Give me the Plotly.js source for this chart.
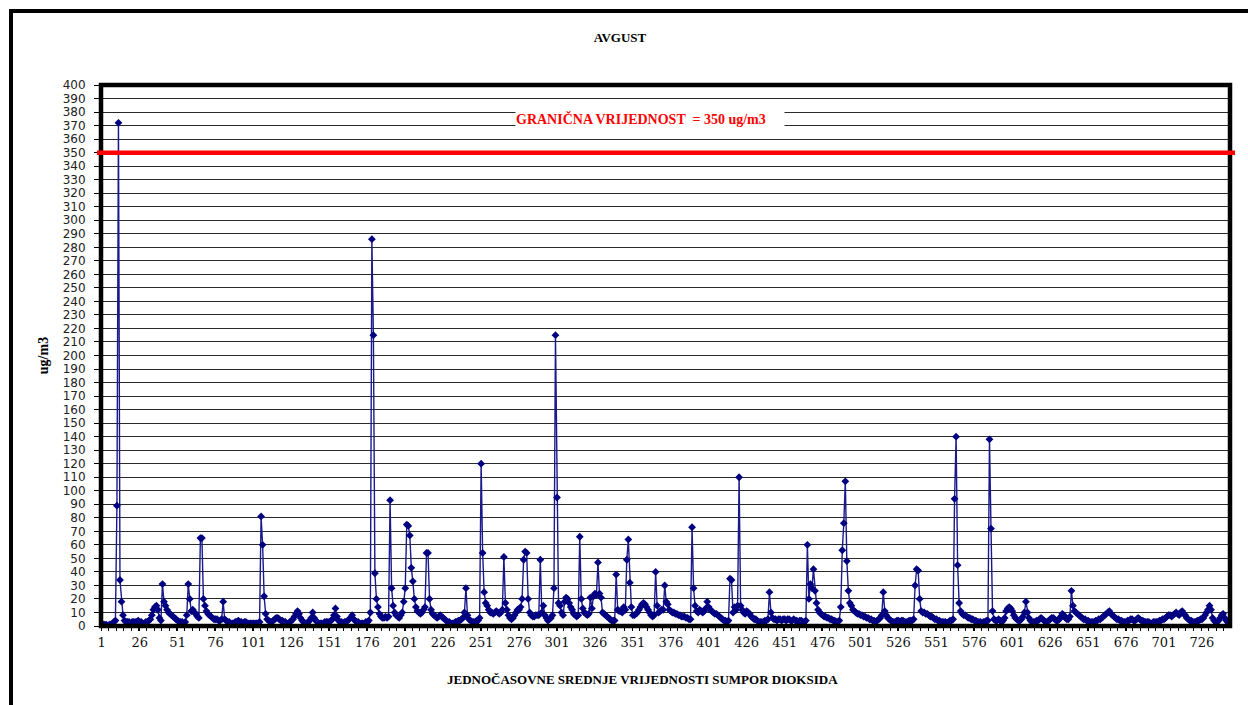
<!DOCTYPE html>
<html>
<head>
<meta charset="utf-8">
<script src="https://cdn.plot.ly/plotly-3.0.1.min.js"></script>
<style>
html,body{margin:0;padding:0;overflow:hidden;background:#fff;width:1248px;height:705px;}
#frame{position:absolute;left:9px;top:9px;width:1400px;height:900px;border-left:4px solid #000;border-top:4px solid #000;}
#chart{position:absolute;left:0;top:0;width:1248px;height:705px;}
</style>
</head>
<body>
<div id="frame"></div>
<div id="chart"></div>
<script>
// Hourly SO2 means, August (744 hours)
const so2Values = [
  2,1,1,1,0,1,1,2,3,4, 89,372,34,18,8, 4,3,3,3,2, 3,3,3,3,4,
  3,3,2,2,3,3,4,5,8,12, 14,15,12,6,4, 31,18,15,12,10, 9,8,7,6,5,
  4,3,3,3,2, 3,8,31,20,11, 12,10,9,7,6, 65,65,20,15,11, 9,8,7,6,5,
  5,5,4,4,5, 18,5,4,3,3, 2,2,2,3,3, 4,3,3,2,3, 3,2,2,2,2,
  2,2,2,2,3, 81,60,22,9,5, 4,3,3,4,5, 6,6,5,4,4, 3,3,2,2,3,
  4,5,7,9,11, 9,6,4,3,2, 2,3,4,6,10, 6,4,3,2,2, 2,2,3,3,3,
  3,4,5,8,13, 7,4,3,3,2, 3,3,4,5,6, 8,5,4,3,3, 2,2,2,2,3,
  3,4,10,286,215, 39,20,14,9,7, 6,6,7,6,7, 93,28,15,10,8, 7,6,8,10,18,
  28,75,74,67,43, 33,20,14,11,10, 9,10,12,14,54, 54,20,12,9,8, 7,6,7,8,7,
  6,5,4,3,3, 2,2,2,3,3, 4,4,5,6,10, 28,8,5,4,3, 3,3,4,4,6,
  120,54,25,17,15, 12,10,10,9,10, 11,10,9,10,12, 51,17,12,8,6, 5,6,8,10,12,
  12,14,20,49,55, 54,20,10,8,7, 7,8,8,8,49, 10,15,8,6,4, 5,6,8,28,215,
  95,17,15,10,8, 18,21,20,17,14, 12,9,8,7,8, 66,20,13,10,9, 8,9,21,13,22,
  24,23,47,24,21, 10,9,8,7,6, 5,4,4,4,38, 12,11,11,10,14, 12,49,64,32,14,
  8,8,9,10,12, 14,16,17,16,14, 12,10,8,7,8, 40,15,10,11,12, 12,30,18,16,12,
  11,10,10,9,9, 8,8,7,7,7, 6,6,5,5,73, 28,15,11,10,12, 11,10,11,13,18,
  14,12,11,10,9, 9,8,7,6,5, 4,4,3,4,35, 34,10,14,12,15, 110,15,12,10,9,
  11,10,9,7,6, 5,5,4,3,3, 3,3,4,4,5, 25,10,6,5,5, 4,5,5,4,5,
  5,4,5,5,4, 4,5,4,4,3, 4,4,3,3,4, 60,20,31,28,42, 26,17,12,10,9,
  8,7,7,6,6, 5,5,4,4,3, 3,4,14,56,76, 107,48,26,17,15, 12,11,10,9,9,
  8,8,7,7,6, 6,5,5,4,4, 3,4,5,6,8, 25,11,8,6,5, 4,3,3,3,4,
  4,3,4,4,3, 3,3,4,4,4, 5,30,42,41,20, 11,10,10,9,9, 8,7,7,6,5,
  5,4,4,3,3, 3,3,2,3,4, 4,5,94,140,45, 17,11,9,8,8, 7,6,6,5,5,
  4,4,3,3,3, 2,3,3,4,4, 138,72,11,5,4, 4,5,4,3,4, 6,11,13,14,13,
  11,8,6,5,4, 4,5,7,10,18, 10,6,4,3,3, 3,4,4,5,6, 5,4,3,3,4,
  5,6,6,5,4, 4,5,7,9,8, 6,5,5,7,26, 15,11,10,9,8, 7,6,5,5,4,
  4,3,3,3,3, 4,4,5,5,6, 7,8,9,10,11, 9,8,7,6,5, 5,4,4,3,3,
  3,4,4,5,5, 4,4,5,6,5, 4,4,3,3,3, 3,2,2,3,3, 3,3,4,4,5,
  5,6,7,8,8, 7,8,9,10,9, 8,10,11,9,8, 6,5,4,4,3, 3,3,4,4,5,
  5,6,8,10,12, 15,12,6,4,3, 3,4,6,8,9, 6,4,3,2
];
const hours = so2Values.map((v, i) => i + 1);
const xTickValues = [1,26,51,76,101,126,151,176,201,226,251,276,301,326,351,376,401,426,451,476,501,526,551,576,601,626,651,676,701,726];
const xTickLabels = xTickValues.map(String);
const yTickValues = [0,10,20,30,40,50,60,70,80,90,100,110,120,130,140,150,160,170,180,190,200,210,220,230,240,250,260,270,280,290,300,310,320,330,340,350,360,370,380,390,400];
const limitValue = 350;
const limitText = 'GRANIČNA VRIJEDNOST  = 350 ug/m3';
const chartTitle = 'AVGUST';
const xTitle = 'JEDNOČASOVNE SREDNJE VRIJEDNOSTI SUMPOR DIOKSIDA';
const yTitle = 'ug/m3';

const trace = {
  type: 'scatter',
  mode: 'lines+markers',
  x: hours,
  y: so2Values,
  line: {color: '#1a1a8c', width: 1.4},
  marker: {symbol: 'diamond', size: 6, color: '#000080'},
  hoverinfo: 'x+y',
  showlegend: false
};

const serif = '"Liberation Serif", "DejaVu Serif", serif';
const layout = {
  width: 1248, height: 705,
  margin: {l: 101, r: 18, t: 85, b: 79},
  paper_bgcolor: 'rgba(0,0,0,0)',
  plot_bgcolor: '#ffffff',
  title: {
    text: '<b>' + chartTitle + '</b>',
    x: 620/1248, xanchor: 'center', xref: 'container',
    y: 1 - 37/705, yanchor: 'middle', yref: 'container',
    font: {family: serif, size: 13, color: '#000'}
  },
  xaxis: {
    range: [0.5, so2Values.length + 0.5],
    tickmode: 'array', tickvals: xTickValues, ticktext: xTickLabels,
    ticks: 'outside', ticklen: 4, tickcolor: '#000', tickwidth: 1,
    minor: {dtick: 5, tick0: 0.5, ticks: 'outside', ticklen: 4, tickcolor: '#000', tickwidth: 1, showgrid: false},
    tickfont: {family: '"DejaVu Serif", serif', size: 13, color: '#111'},
    showgrid: false, zeroline: false, showline: false,
    fixedrange: true
  },
  yaxis: {
    range: [0, 400],
    tickmode: 'array', tickvals: yTickValues, ticktext: yTickValues.map(String),
    ticks: 'outside', ticklen: 6, tickcolor: '#000', tickwidth: 1,
    ticklabelstandoff: 6,
    tickfont: {family: '"DejaVu Sans", sans-serif', size: 12, color: '#222'},
    showgrid: true, gridcolor: '#2a2a2a', gridwidth: 1.4,
    zeroline: false, showline: false,
    title: {text: '<b>' + yTitle + '</b>', standoff: 10, font: {family: serif, size: 14, color: '#000'}},
    fixedrange: true
  },
  shapes: [
    {type: 'rect', xref: 'paper', yref: 'paper', x0: 0, x1: 1, y0: 0, y1: 1,
     line: {color: '#000', width: 4.5}, layer: 'above'},
    {type: 'line', xref: 'paper', yref: 'y', x0: -4/1129, x1: 1 + 5/1129, y0: limitValue, y1: limitValue,
     line: {color: '#ff0000', width: 4.5}, layer: 'above'}
  ],
  annotations: [
    {xref: 'paper', yref: 'y', x: (515-101)/1129, y: 375, xanchor: 'left', yanchor: 'middle',
     text: '<b>' + limitText + '</b>', showarrow: false, align: 'left',
     width: 268, height: 26, bgcolor: '#ffffff', borderpad: 0,
     font: {family: serif, size: 14, color: '#ff0000'}},
    {xref: 'paper', yref: 'paper', x: (642-101)/1129, y: (626-679)/541, xanchor: 'center', yanchor: 'middle',
     text: '<b>' + xTitle + '</b>', showarrow: false,
     font: {family: serif, size: 13, color: '#000'}}
  ]
};

Plotly.newPlot('chart', [trace], layout, {displayModeBar: false});
</script>
</body>
</html>
